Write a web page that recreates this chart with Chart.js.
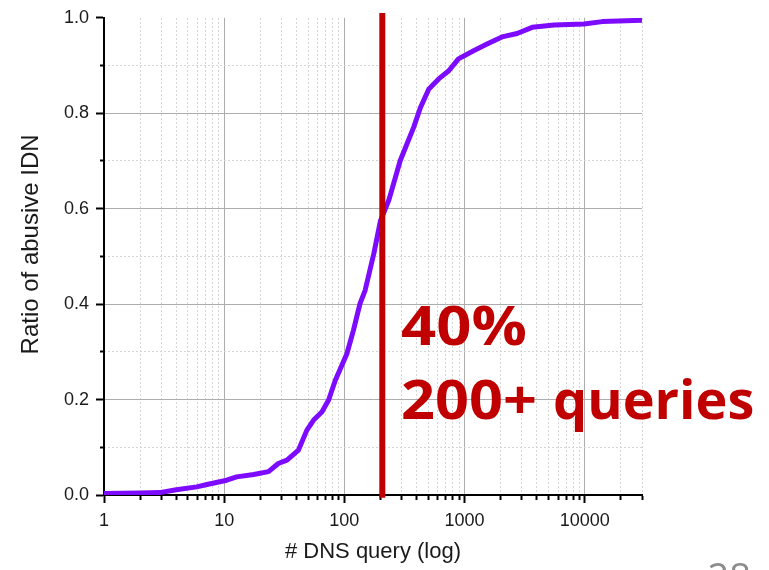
<!DOCTYPE html>
<html>
<head>
<meta charset="utf-8">
<script src="https://cdn.jsdelivr.net/npm/chart.js@4"></script>
<style>
  html, body { margin: 0; padding: 0; background: #fff; }
  #wrap { position: relative; width: 769px; height: 570px; }
</style>
</head>
<body>
<div id="wrap"><canvas id="chart" width="769" height="570"></canvas></div>
<script>
// CDF of DNS queries per abusive IDN
const QUERIES = [1, 2, 2.9, 4, 5.9, 7.2, 10.5, 12.7, 17.6, 23.4, 28.2, 33.3, 41.5, 48.8, 55.5, 65, 74, 84,
  105, 119, 135, 149, 176, 200, 234, 292, 378, 430, 505, 610, 740, 890, 1190, 1540, 2050, 2740, 3660,
  5560, 9870, 14000, 30000];
const RATIO = [0.003, 0.004, 0.005, 0.011, 0.017, 0.022, 0.031, 0.038, 0.043, 0.049, 0.066, 0.073, 0.094,
  0.136, 0.157, 0.174, 0.199, 0.24, 0.296, 0.345, 0.401, 0.429, 0.506, 0.575, 0.617, 0.701, 0.771, 0.812,
  0.851, 0.872, 0.889, 0.914, 0.931, 0.945, 0.960, 0.967, 0.980, 0.985, 0.987, 0.992, 0.995];

// threshold marker
const MARK_X = [207, 207];
const MARK_Y = [-0.006, 1.01];

// axis ticks
const X_DECADES = [1, 10, 100, 1000, 10000];
const X_STEPS = [1, 2, 3, 4, 5, 6, 7, 8, 9];
const X_MAX = 30000;
const Y_TICKS = [0, 0.1, 0.2, 0.3, 0.4, 0.5, 0.6, 0.7, 0.8, 0.9, 1.0];
const Y_LABELS = ['0.0', '0.2', '0.4', '0.6', '0.8', '1.0'];

const xTickValues = [];
X_DECADES.forEach((d) => X_STEPS.forEach((s) => { if (d * s <= X_MAX) xTickValues.push(d * s); }));

const isDecade = (v) => X_DECADES.includes(v);
const isEvenTenth = (v) => Math.round(v * 10) % 2 === 0;

const MAJOR_GRID = '#adadad';
const MINOR_GRID = '#d6d6d6';
const NONE = 'rgba(0,0,0,0)';
const SANS = 'Liberation Sans, Arial, sans-serif';
const tickFont = { family: SANS, size: 18 };

const setXTicks = (scale) => {
  scale.ticks = xTickValues.map((v) => ({ value: v, major: isDecade(v) }));
};
const setYTicks = (scale) => {
  scale.ticks = Y_TICKS.map((v) => ({ value: v }));
};

// stretched text helper for the slide annotation
function stretchText(ctx, text, x, y, sx) {
  ctx.save();
  ctx.translate(x, y);
  ctx.scale(sx, 1);
  ctx.fillText(text, 0, 0);
  ctx.restore();
}

const annotations = {
  id: 'annotations',
  afterDraw(chart) {
    const ctx = chart.ctx;
    ctx.save();
    ctx.fillStyle = '#c00000';
    ctx.font = 'bold 54px "Open Sans", "Noto Sans", sans-serif';
    ctx.textBaseline = 'alphabetic';
    ctx.textAlign = 'left';
    stretchText(ctx, '40%', 401, 345, 1.14);
    stretchText(ctx, '200+', 401, 419, 1.1);
    ctx.fillText('queries', 553, 419);
    ctx.fillStyle = '#8c8c8c';
    ctx.font = '38px "Open Sans", "Noto Sans", sans-serif';
    ctx.textAlign = 'right';
    ctx.fillText('28', 751, 591);
    ctx.restore();
  },
};

new Chart(document.getElementById('chart'), {
  type: 'line',
  data: {
    datasets: [
      {
        data: MARK_X.map((x, i) => ({ x, y: MARK_Y[i] })),
        borderColor: '#c00000',
        borderWidth: 6,
        pointRadius: 0,
        clip: false,
      },
      {
        data: QUERIES.map((x, i) => ({ x, y: RATIO[i] })),
        borderColor: '#7d0bff',
        borderWidth: 5,
        borderJoinStyle: 'round',
        borderCapStyle: 'round',
        pointRadius: 0,
        tension: 0,
      },
    ],
  },
  options: {
    responsive: false,
    animation: false,
    layout: { padding: { top: 17, right: 127, bottom: 0, left: 0 } },
    plugins: { legend: { display: false }, tooltip: { enabled: false } },
    scales: {
      x: {
        type: 'logarithmic',
        min: 1,
        max: X_MAX,
        afterBuildTicks: setXTicks,
        afterFit: (s) => { s.height = 75; },
        ticks: {
          autoSkip: false,
          maxRotation: 0,
          padding: 7,
          color: '#1a1a1a',
          font: tickFont,
          callback: (v) => (isDecade(v) ? String(v) : ''),
        },
        grid: {
          color: (c) => (c.tick && isDecade(c.tick.value) ? MAJOR_GRID : NONE),
          tickColor: '#000',
          tickWidth: 2,
          tickLength: 8,
          tickBorderDash: (c) => (c.tick && isDecade(c.tick.value) ? [] : [4, 60]),
        },
        border: { color: '#000', width: 2 },
        title: {
          display: true,
          text: '# DNS query (log)',
          color: '#1a1a1a',
          font: { family: SANS, size: 22 },
          padding: { top: 0, bottom: 5 },
        },
      },
      x2: {
        type: 'logarithmic',
        position: 'top',
        min: 1,
        max: X_MAX,
        afterBuildTicks: setXTicks,
        afterFit: (s) => { s.height = 0; },
        ticks: { display: false },
        grid: {
          drawTicks: false,
          color: (c) => (c.tick && !isDecade(c.tick.value) ? MINOR_GRID : NONE),
        },
        border: { display: false, dash: [2, 2] },
      },
      y: {
        type: 'linear',
        min: 0,
        max: 1,
        afterBuildTicks: setYTicks,
        afterFit: (s) => { s.width = 104; },
        ticks: {
          padding: 7,
          color: '#1a1a1a',
          font: tickFont,
          callback: (v) => (isEvenTenth(v) ? Y_LABELS[Math.round(v * 5)] : ''),
        },
        grid: {
          color: (c) => {
            if (!c.tick) return NONE;
            const v = c.tick.value;
            return isEvenTenth(v) && v > 0.05 && v < 0.95 ? MAJOR_GRID : NONE;
          },
          tickColor: '#000',
          tickWidth: 2,
          tickLength: 8,
          // left ticks are stroked from the outside in, so the gap comes first
          tickBorderDash: (c) => (c.tick && isEvenTenth(c.tick.value) ? [] : [0, 4, 4, 60]),
        },
        border: { color: '#000', width: 2 },
        title: {
          display: true,
          // leading em space nudges the rotated title up a little, as in the original
          text: '\u2003Ratio of abusive IDN',
          color: '#1a1a1a',
          font: { family: SANS, size: 24 },
          padding: { top: 17, bottom: 0 },
        },
      },
      y2: {
        type: 'linear',
        position: 'right',
        min: 0,
        max: 1,
        afterBuildTicks: setYTicks,
        afterFit: (s) => { s.width = 0; },
        ticks: { display: false },
        grid: {
          drawTicks: false,
          color: (c) => (c.tick && !isEvenTenth(c.tick.value) ? MINOR_GRID : NONE),
        },
        border: { display: false, dash: [2, 2] },
      },
    },
  },
  plugins: [annotations],
});
</script>
</body>
</html>
